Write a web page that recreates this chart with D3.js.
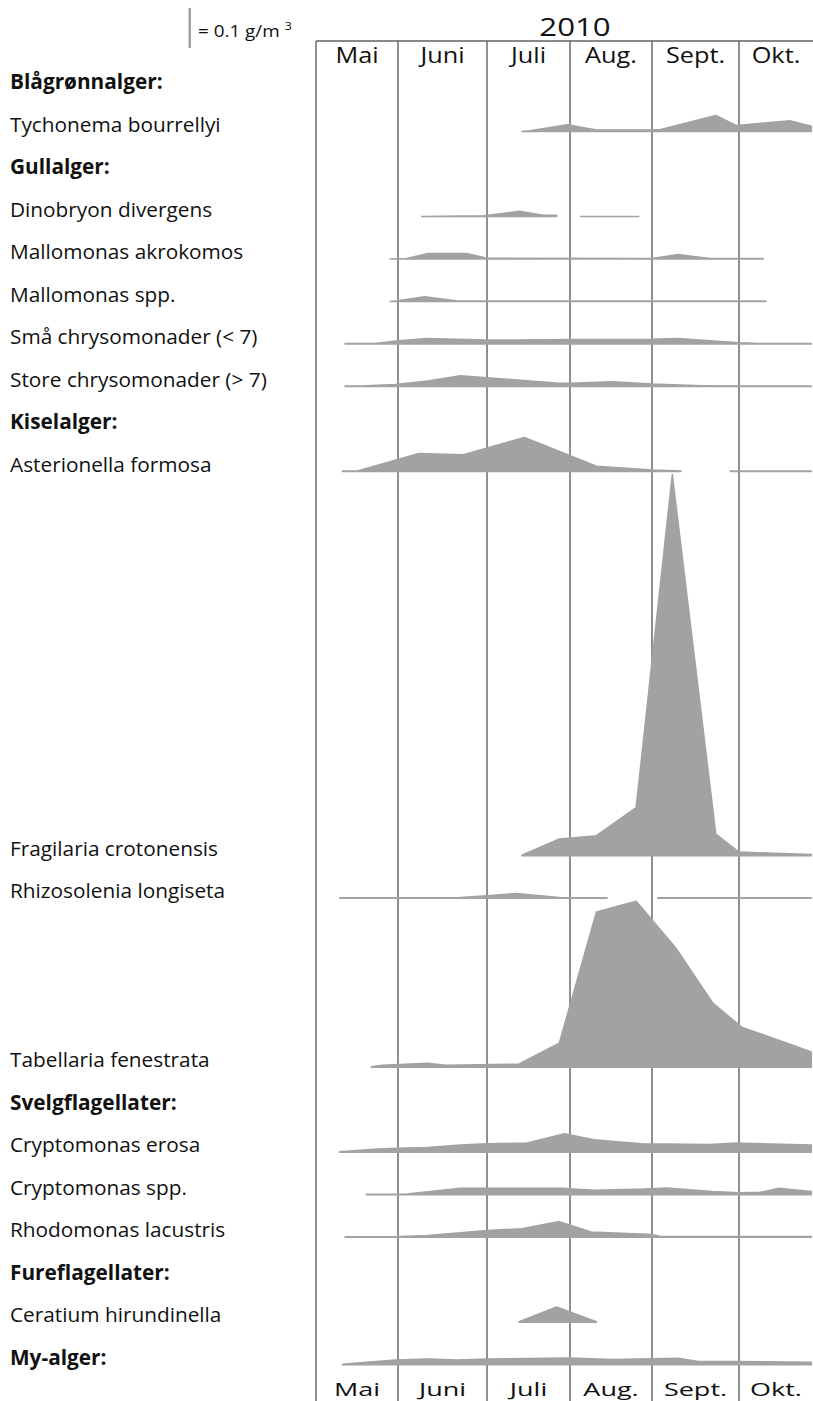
<!DOCTYPE html>
<html><head><meta charset="utf-8">
<script src="https://cdn.jsdelivr.net/npm/d3@7"></script>
<style>body{margin:0;background:#fff} svg{display:block} text{font-family:"Open Sans", "Noto Sans", sans-serif;fill:#111}</style>
</head><body><svg id="c" width="813" height="1401"></svg>
<script>
// ---------- DATA (biomass, g/m3) ----------
const year = "2010";
const monthLabels = ["Mai", "Juni", "Juli", "Aug.", "Sept.", "Okt."];
const monthStarts = ["2010-05-01", "2010-06-01", "2010-07-01", "2010-08-01", "2010-09-01", "2010-10-01", "2010-11-01"];
const scaleBarValue = 0.1;

const tychonema = [["2010-07-14",0.000],["2010-07-17",0.002],["2010-07-31",0.017],["2010-08-11",0.004],["2010-08-31",0.004],["2010-09-04",0.005],["2010-09-23",0.040],["2010-09-30",0.015],["2010-10-20",0.027],["2010-10-28",0.013]];
const dinobryon = [["2010-06-09",0.000],["2010-06-30",0.002],["2010-07-13",0.013],["2010-07-22",0.003],["2010-07-27",0.003],["2010-07-31",null],["2010-08-05",0.000],["2010-08-27",0.000]];
const mallomonasAkrokomos = [["2010-05-29",0.000],["2010-06-04",0.001],["2010-06-11",0.014],["2010-06-24",0.014],["2010-07-01",0.002],["2010-09-01",0.001],["2010-09-10",0.011],["2010-09-21",0.001],["2010-10-10",0.001]];
const mallomonasSpp = [["2010-05-29",0.000],["2010-06-01",0.002],["2010-06-10",0.012],["2010-06-21",0.001],["2010-10-11",0.001]];
const smaChrysomonader = [["2010-05-12",0.001],["2010-05-24",0.002],["2010-06-01",0.008],["2010-06-11",0.014],["2010-07-01",0.010],["2010-07-12",0.010],["2010-08-01",0.011],["2010-09-01",0.012],["2010-09-10",0.014],["2010-10-01",0.003],["2010-10-09",0.001],["2010-10-28",0.001]];
const storeChrysomonader = [["2010-05-12",0.001],["2010-05-20",0.002],["2010-05-31",0.005],["2010-06-11",0.014],["2010-06-22",0.027],["2010-07-01",0.022],["2010-07-28",0.008],["2010-08-01",0.008],["2010-08-17",0.012],["2010-09-01",0.006],["2010-09-18",0.002],["2010-10-01",0.001],["2010-10-28",0.001]];
const asterionella = [["2010-05-11",0.001],["2010-05-17",0.002],["2010-06-08",0.045],["2010-06-23",0.042],["2010-07-15",0.085],["2010-08-11",0.013],["2010-09-01",0.004],["2010-09-11",0.001],["2010-09-20",null],["2010-09-28",0.001],["2010-10-28",0.001]];
const fragilaria = [["2010-07-14",0.001],["2010-07-28",0.042],["2010-08-11",0.050],["2010-08-26",0.120],["2010-09-08",0.953],["2010-09-23",0.054],["2010-10-01",0.009],["2010-10-28",0.003]];
const rhizosolenia = [["2010-05-10",0.001],["2010-06-22",0.002],["2010-07-01",0.006],["2010-07-12",0.012],["2010-07-28",0.002],["2010-08-15",0.001],["2010-08-25",null],["2010-09-03",0.001],["2010-10-28",0.001]];
const tabellaria = [["2010-05-22",0.001],["2010-05-26",0.005],["2010-06-11",0.010],["2010-06-17",0.005],["2010-07-13",0.008],["2010-07-28",0.060],["2010-08-11",0.388],["2010-08-26",0.415],["2010-09-09",0.300],["2010-09-22",0.160],["2010-10-02",0.100],["2010-10-19",0.060],["2010-10-28",0.038]];
const cryptomonasErosa = [["2010-05-10",0.001],["2010-05-24",0.008],["2010-06-01",0.010],["2010-06-11",0.012],["2010-06-22",0.018],["2010-07-01",0.021],["2010-07-16",0.023],["2010-07-30",0.046],["2010-08-10",0.031],["2010-08-28",0.021],["2010-09-21",0.019],["2010-09-30",0.023],["2010-10-28",0.018]];
const cryptomonasSpp = [["2010-05-20",0.001],["2010-06-04",0.002],["2010-06-22",0.016],["2010-07-01",0.016],["2010-07-29",0.016],["2010-08-10",0.011],["2010-08-29",0.014],["2010-09-06",0.017],["2010-09-22",0.008],["2010-10-01",0.005],["2010-10-09",0.006],["2010-10-16",0.016],["2010-10-28",0.008]];
const rhodomonas = [["2010-05-12",0.001],["2010-05-31",0.001],["2010-06-11",0.004],["2010-07-01",0.017],["2010-07-14",0.021],["2010-07-28",0.039],["2010-08-09",0.013],["2010-09-01",0.007],["2010-09-04",0.002],["2010-10-28",0.002]];
const ceratium = [["2010-07-13",0.001],["2010-07-27",0.038],["2010-08-11",0.001]];
const myAlger = [["2010-05-11",0.001],["2010-05-20",0.006],["2010-05-31",0.012],["2010-06-11",0.014],["2010-06-21",0.012],["2010-07-01",0.014],["2010-08-01",0.017],["2010-08-17",0.013],["2010-09-10",0.016],["2010-09-17",0.008],["2010-10-01",0.008],["2010-10-28",0.006]];

const rowLabels = ["Blågrønnalger:", "Tychonema bourrellyi", "Gullalger:", "Dinobryon divergens", "Mallomonas akrokomos", "Mallomonas spp.", "Små chrysomonader (< 7)", "Store chrysomonader (> 7)", "Kiselalger:", "Asterionella formosa", "Fragilaria crotonensis", "Rhizosolenia longiseta", "Tabellaria fenestrata", "Svelgflagellater:", "Cryptomonas erosa", "Cryptomonas spp.", "Rhodomonas lacustris", "Fureflagellater:", "Ceratium hirundinella", "My-alger:"];
const rowIsGroup = [true, false, true, false, false, false, false, false, true, false, false, false, false, true, false, false, false, true, false, true];
const rowSeries = [null, tychonema, null, dinobryon, mallomonasAkrokomos, mallomonasSpp, smaChrysomonader, storeChrysomonader, null, asterionella, fragilaria, rhizosolenia, tabellaria, null, cryptomonasErosa, cryptomonasSpp, rhodomonas, null, ceratium, myAlger];

// ---------- LAYOUT ----------
const W = 813, H = 1401;
const gridTop = 41, firstBaseline = 89, rowStep = 42.5, tallPad = 3;
const labelX = 10;
const fillCol = "#a2a2a2", gridCol = "#606060";

const parse = d3.timeParse("%Y-%m-%d");
const x = d3.scaleTime().domain(monthStarts.map(parse)).range([316, 398, 487, 570, 652, 739, 822]);
const hScale = d3.scaleLinear().domain([0, 1]).range([0, 400]);

const svg = d3.select("#c");

// rows
const rows = rowLabels.map((label, i) => ({
  label, group: rowIsGroup[i],
  data: rowSeries[i] ? rowSeries[i].map(([d, v]) => ({date: parse(d), v})) : null
}));
let b = firstBaseline;
rows.forEach((r, i) => {
  if (i > 0) {
    const mx = r.data ? d3.max(r.data, d => d.v) : 0;
    b += Math.max(rowStep, hScale(mx) + tallPad);
  }
  r.base = b;
});

// grid
const bounds = monthStarts.slice(0, 6).map(parse);
svg.append("g").selectAll("line").data(bounds).join("line")
  .attr("x1", d => x(d)).attr("x2", d => x(d))
  .attr("y1", gridTop).attr("y2", H)
  .attr("stroke", gridCol).attr("stroke-width", 1.4);
svg.append("line").attr("x1", x(bounds[0])).attr("x2", W)
  .attr("y1", gridTop).attr("y2", gridTop)
  .attr("stroke", gridCol).attr("stroke-width", 1.4);

// month labels top and bottom (wide display face: stretched horizontally)
const monthCenters = monthLabels.map((m, i) => {
  const a = x(parse(monthStarts[i])), e = Math.min(W, x(parse(monthStarts[i + 1])));
  return {m, cx: (a + e) / 2};
});
svg.append("g").selectAll("text").data(monthCenters).join("text")
  .attr("transform", d => `translate(${d.cx},63) scale(1.15,1)`).attr("text-anchor", "middle")
  .style("font-size", "22px").text(d => d.m);
svg.append("g").selectAll("text").data(monthCenters).join("text")
  .attr("transform", d => `translate(${d.cx},1396) scale(1.5,1)`).attr("text-anchor", "middle")
  .style("font-size", "18px").text(d => d.m);

svg.append("text").attr("transform", "translate(575,36) scale(1.25,1)").attr("text-anchor", "middle")
  .style("font-size", "25px").text(year);

// scale legend
svg.append("rect").attr("x", 188.5).attr("width", 2.5)
  .attr("y", 48 - hScale(scaleBarValue)).attr("height", hScale(scaleBarValue)).attr("fill", fillCol);
const lt = svg.append("text").attr("transform", "translate(198,37) scale(1.18,1)").style("font-size", "16px");
lt.append("tspan").text("= " + scaleBarValue + " g/m");
lt.append("tspan").attr("dx", 4).attr("dy", -7).style("font-size", "11px").text("3");

// areas
const area = d3.area().defined(d => d.v != null)
  .x(d => x(d.date));
rows.filter(r => r.data).forEach(r => {
  svg.append("path").datum(r.data)
    .attr("d", area.y0(r.base).y1(d => r.base - hScale(d.v)))
    .attr("fill", fillCol).attr("stroke", fillCol).attr("stroke-width", 1.5)
    .attr("stroke-linejoin", "round");
});

// labels
svg.append("g").selectAll("text").data(rows).join("text")
  .attr("x", labelX).attr("y", d => d.base)
  .style("font-size", "20.8px").style("font-weight", d => d.group ? "bold" : "normal")
  .text(d => d.label);
</script></body></html>
